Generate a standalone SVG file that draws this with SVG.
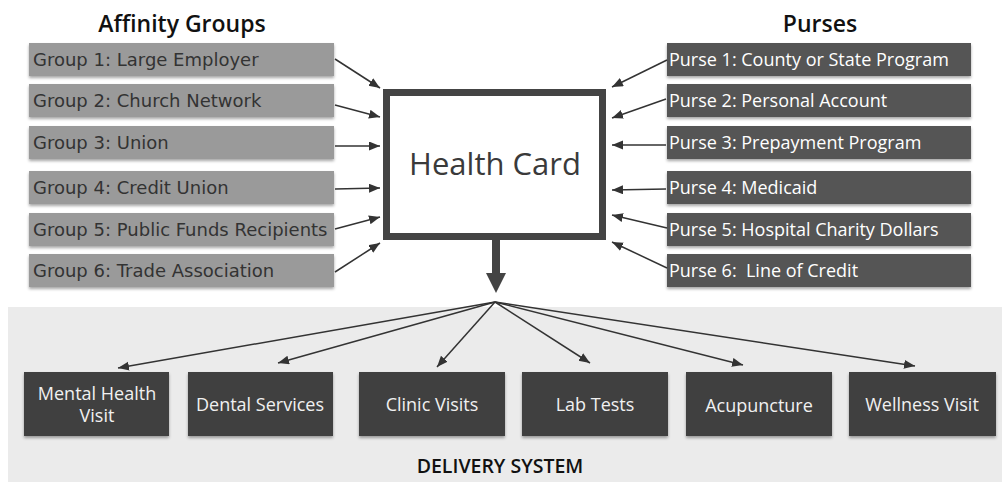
<svg xmlns="http://www.w3.org/2000/svg" width="1002" height="482" viewBox="0 0 1002 482">
<style>
.hdr{font-family:"Open Sans","Liberation Sans",sans-serif;font-size:23px;font-weight:600;fill:#111;text-anchor:middle}
.grp rect{fill:#9a9a9a}
.grp text{font-family:"DejaVu Sans","Liberation Sans",sans-serif;font-size:18px;fill:#333}
.prs rect{fill:#555}
.prs text{font-family:"Open Sans","Liberation Sans",sans-serif;font-size:18px;fill:#fff}
.dlv rect{fill:#404040}
.dlv text{font-family:"Open Sans","Liberation Sans",sans-serif;font-size:18px;fill:#f0f0f0;text-anchor:middle}
.con line{stroke:#333;stroke-width:1.5;marker-end:url(#ah)}
</style>
<defs>
<marker id="ah" markerUnits="userSpaceOnUse" markerWidth="12" markerHeight="10" refX="11" refY="4.5" orient="auto">
<path d="M0,0 L11,4.5 L0,9 z" fill="#333"/>
</marker>
<filter id="sh" x="-5%" y="-20%" width="110%" height="150%">
<feDropShadow dx="0" dy="2" stdDeviation="1.5" flood-color="#000" flood-opacity="0.35"/>
</filter>
</defs>
<rect x="8" y="307" width="994" height="175" fill="#ebebeb"/>
<text class="hdr" x="182" y="32">Affinity Groups</text>
<text class="hdr" x="820" y="32">Purses</text>

<g id="group1" class="grp"><rect x="29" y="43" width="305" height="33" filter="url(#sh)"/><text x="33" y="66">Group 1: Large Employer</text></g>
<g id="group2" class="grp"><rect x="29" y="84" width="305" height="33" filter="url(#sh)"/><text x="33" y="107">Group 2: Church Network</text></g>
<g id="group3" class="grp"><rect x="29" y="126" width="305" height="33" filter="url(#sh)"/><text x="33" y="149">Group 3: Union</text></g>
<g id="group4" class="grp"><rect x="29" y="171" width="305" height="33" filter="url(#sh)"/><text x="33" y="194">Group 4: Credit Union</text></g>
<g id="group5" class="grp"><rect x="29" y="213" width="305" height="33" filter="url(#sh)"/><text x="33" y="236">Group 5: Public Funds Recipients</text></g>
<g id="group6" class="grp"><rect x="29" y="254" width="305" height="33" filter="url(#sh)"/><text x="33" y="277">Group 6: Trade Association</text></g>

<g id="purse1" class="prs"><rect x="667" y="43" width="304" height="33" filter="url(#sh)"/><text x="669" y="66">Purse 1: County or State Program</text></g>
<g id="purse2" class="prs"><rect x="667" y="84" width="304" height="33" filter="url(#sh)"/><text x="669" y="107">Purse 2: Personal Account</text></g>
<g id="purse3" class="prs"><rect x="667" y="126" width="304" height="33" filter="url(#sh)"/><text x="669" y="149">Purse 3: Prepayment Program</text></g>
<g id="purse4" class="prs"><rect x="667" y="171" width="304" height="33" filter="url(#sh)"/><text x="669" y="194">Purse 4: Medicaid</text></g>
<g id="purse5" class="prs"><rect x="667" y="213" width="304" height="33" filter="url(#sh)"/><text x="669" y="236">Purse 5: Hospital Charity Dollars</text></g>
<g id="purse6" class="prs"><rect x="667" y="254" width="304" height="33" filter="url(#sh)"/><text x="669" y="277" xml:space="preserve">Purse 6:  Line of Credit</text></g>

<g id="healthcard">
<rect x="386.5" y="92.5" width="216" height="144" fill="#fff" stroke="#444" stroke-width="7"/>
<text x="495" y="175" font-family="'Open Sans','Liberation Sans',sans-serif" font-size="31" fill="#3a3a3a" text-anchor="middle">Health Card</text>
</g>

<g id="dlv1" class="dlv"><rect x="24" y="372" width="145" height="64" filter="url(#sh)"/><text x="97" y="400">Mental Health</text><text x="97" y="422">Visit</text></g>
<g id="dlv2" class="dlv"><rect x="188" y="372" width="145" height="64" filter="url(#sh)"/><text x="260" y="411">Dental Services</text></g>
<g id="dlv3" class="dlv"><rect x="359" y="372" width="146" height="64" filter="url(#sh)"/><text x="432" y="411">Clinic Visits</text></g>
<g id="dlv4" class="dlv"><rect x="522" y="372" width="146" height="64" filter="url(#sh)"/><text x="595" y="411">Lab Tests</text></g>
<g id="dlv5" class="dlv"><rect x="686" y="372" width="146" height="64" filter="url(#sh)"/><text x="759" y="412">Acupuncture</text></g>
<g id="dlv6" class="dlv"><rect x="849" y="372" width="147" height="64" filter="url(#sh)"/><text x="922" y="411">Wellness Visit</text></g>

<text x="500" y="473" font-family="'Open Sans','Liberation Sans',sans-serif" font-size="19.5" font-weight="600" fill="#111" text-anchor="middle">DELIVERY SYSTEM</text>

<g id="connectors" class="con">
<line x1="335" y1="59" x2="380" y2="88"/>
<line x1="335" y1="105" x2="380" y2="117"/>
<line x1="335" y1="146" x2="380" y2="146"/>
<line x1="335" y1="189" x2="380" y2="188"/>
<line x1="335" y1="229" x2="380" y2="217"/>
<line x1="335" y1="272" x2="380" y2="243"/>
<line x1="667" y1="60" x2="612" y2="87"/>
<line x1="666" y1="99" x2="612" y2="118"/>
<line x1="666" y1="145" x2="612" y2="145"/>
<line x1="666" y1="189" x2="612" y2="190"/>
<line x1="667" y1="228" x2="612" y2="215"/>
<line x1="667" y1="268" x2="612" y2="242"/>
<line x1="495" y1="302" x2="118" y2="368"/>
<line x1="495" y1="302" x2="278" y2="363"/>
<line x1="495" y1="302" x2="437" y2="367"/>
<line x1="495" y1="302" x2="590" y2="363"/>
<line x1="495" y1="302" x2="743" y2="365"/>
<line x1="495" y1="302" x2="915" y2="366"/>
<rect x="492" y="239" width="8" height="36" fill="#444"/>
<polygon points="486,273 506,273 496,293" fill="#444"/>
</g>
</svg>
